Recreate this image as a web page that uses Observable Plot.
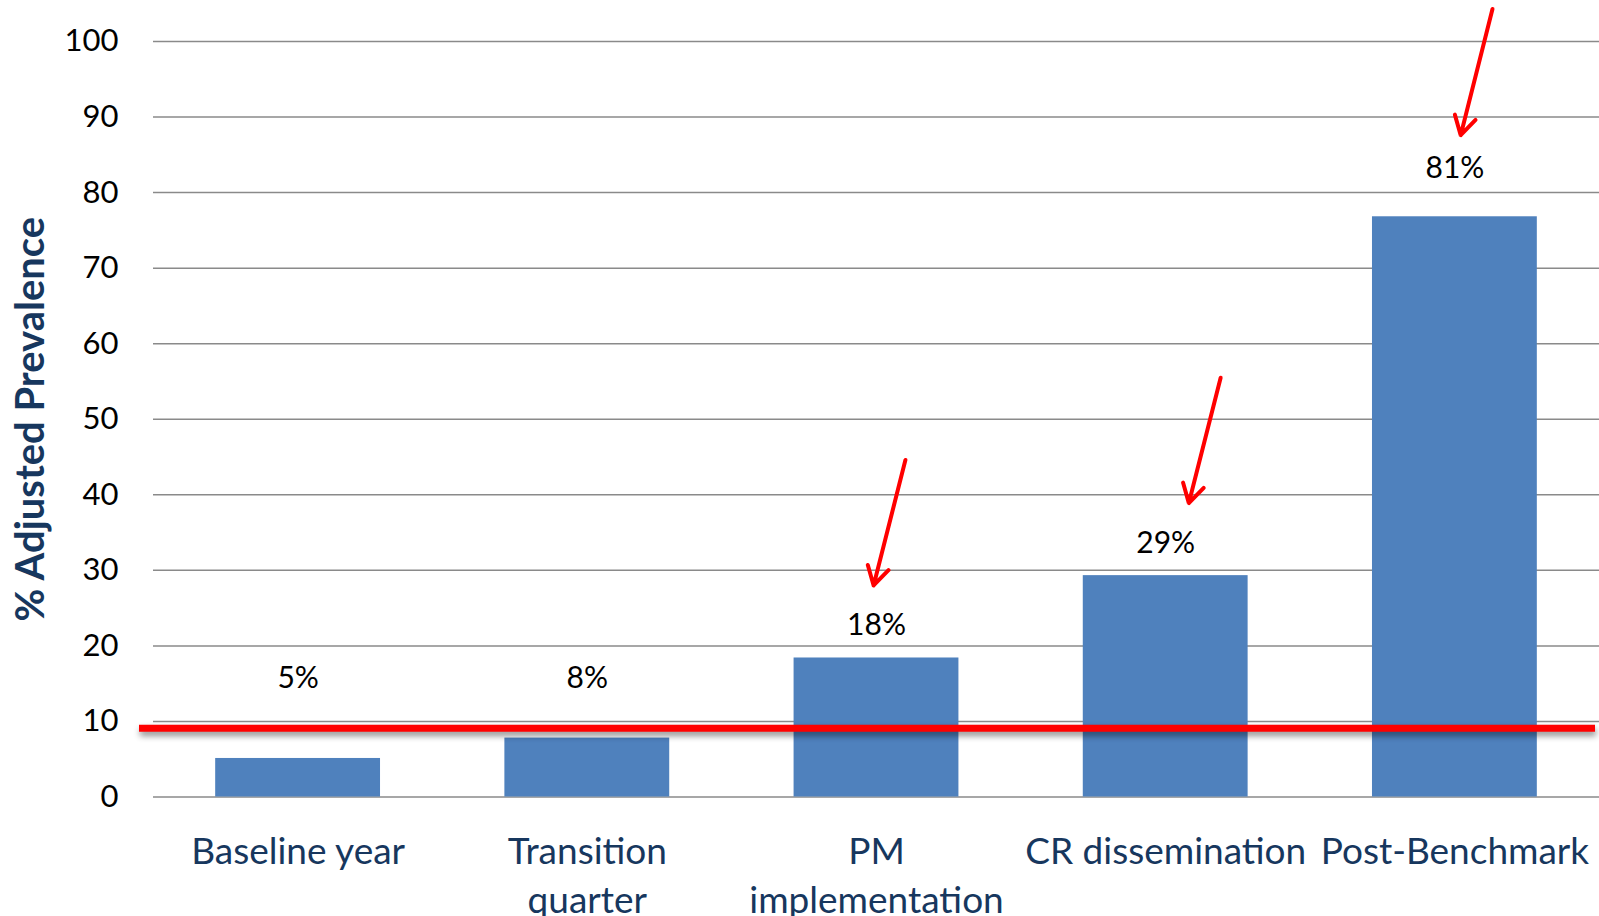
<!DOCTYPE html>
<html>
<head>
<meta charset="utf-8">
<script src="https://cdn.jsdelivr.net/npm/d3@7"></script>
<script src="https://cdn.jsdelivr.net/npm/@observablehq/plot@0.6"></script>
<style>
  html, body { margin: 0; padding: 0; background: #fff; }
  #chart svg { display: block; }
  #chart g[aria-label="rule"] { filter: drop-shadow(1px 4px 3px rgba(0,0,0,0.45)); }
</style>
</head>
<body>
<div id="chart"></div>
<script>
// ---- data ----
const categories = ["Baseline year", "Transition quarter", "PM implementation", "CR dissemination", "Post-Benchmark"];
const tickLabels = ["Baseline year", "Transition\nquarter", "PM\nimplementation", "CR dissemination", "Post-Benchmark"];
const values = [5.1, 7.8, 18.4, 29.3, 76.8];
const valueLabels = ["5%", "8%", "18%", "29%", "81%"];
const valueLabelY = [15.7, 15.7, 22.7, 33.6, 83.2];
const threshold = 9.1;
const yTicks = [0, 10, 20, 30, 40, 50, 60, 70, 80, 90, 100];
const yTitle = "% Adjusted Prevalence";
// annotation arrows (x in category-index units, y in % units)
const arrowTailX = [2.10, 3.19, 4.13];
const arrowTailY = [44.6, 55.5, 104.3];
const arrowTipX = [1.99, 3.08, 4.02];
const arrowTipY = [28.0, 38.9, 87.6];

// ---- tables built from the arrays ----
const bars = categories.map((c, i) => ({i, category: c, value: values[i], label: valueLabels[i], labelY: valueLabelY[i]}));
const arrows = arrowTailX.map((x, k) => ({x1: x, y1: arrowTailY[k], x2: arrowTipX[k], y2: arrowTipY[k]}));
const halfBar = 0.285;

const chart = Plot.plot({
  width: 1599,
  height: 916,
  marginLeft: 153,
  marginRight: 0,
  marginTop: 41,
  marginBottom: 119.5,
  style: {fontFamily: "Lato, 'Open Sans', sans-serif", background: "#fff"},
  x: {domain: [-0.5, 4.5], axis: null},
  y: {domain: [0, 100], axis: null},
  marks: [
    Plot.gridY({ticks: yTicks, stroke: "#8a8a8a", strokeOpacity: 1, strokeWidth: 1.5}),
    Plot.axisY({ticks: yTicks, tickSize: 0, tickPadding: 35, fontSize: 31, fill: "#000", tickFormat: d => String(d)}),
    Plot.axisX({ticks: [0, 1, 2, 3, 4], tickFormat: i => tickLabels[i], tickSize: 0, tickPadding: 32, fontSize: 37, lineHeight: 1.32, fill: "#17375e"}),
    Plot.rectY(bars, {x1: d => d.i - halfBar, x2: d => d.i + halfBar, y: "value", fill: "#4f81bd"}),
    Plot.ruleY([threshold], {stroke: "#ff0000", strokeWidth: 7, insetLeft: -14, insetRight: 4}),
    Plot.text(bars, {x: "i", y: "labelY", text: "label", fontSize: 30, fill: "#000"}),
    Plot.arrow(arrows, {x1: "x1", y1: "y1", x2: "x2", y2: "y2", stroke: "#ff0000", strokeWidth: 4, headLength: 8}),
    Plot.text([yTitle], {frameAnchor: "left", textAnchor: "middle", dx: -122, rotate: -90, fontSize: 40, fontWeight: "bold", fill: "#17375e"})
  ]
});
document.getElementById("chart").append(chart);
</script>
</body>
</html>
